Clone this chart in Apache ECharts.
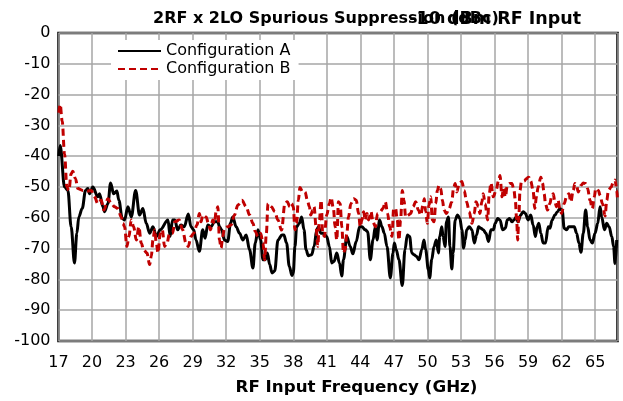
<!DOCTYPE html>
<html><head><meta charset="utf-8">
<script src="https://cdn.jsdelivr.net/npm/echarts@6/dist/echarts.min.js"></script>
<style>html,body{margin:0;padding:0;background:#fff}#c{width:623px;height:401px}</style>
</head><body><div id="c"></div>
<script>
const titleMain = '2RF x 2LO Spurious Suppression (dBc)';
const titleSub = '-10 dBm RF Input';
const xTitle = 'RF Input Frequency (GHz)';
const seriesNames = ['Configuration A', 'Configuration B'];
const xStart = 17, xEnd = 67, xStep = 3;
const yMin = -100, yMax = 0, yStep = 10;

const freqA = [17.02,17.15,17.54,17.84,18.13,18.43,18.64,18.82,19.12,19.42,19.63,19.78,20.07,20.52,20.67,20.97,21.12,21.42,21.66,21.93,22.22,22.40,22.70,22.91,23.21,23.51,23.90,24.25,24.55,24.85,25.15,25.45,25.75,26.10,26.79,26.99,27.20,27.41,27.65,27.95,28.25,28.61,28.85,29.09,29.30,29.60,29.90,30.11,30.35,30.65,30.95,31.25,31.40,31.60,31.84,32.14,32.38,32.59,32.89,33.19,33.49,33.79,34.09,34.39,34.60,34.84,35.08,35.29,35.50,35.68,35.89,36.10,36.34,36.63,36.99,37.16,37.40,37.64,37.88,38.00,38.15,38.30,38.54,38.75,38.96,39.14,39.35,39.65,39.86,40.10,40.25,40.46,40.69,40.99,41.23,41.44,41.65,41.89,42.13,42.34,42.49,42.79,43.09,43.33,43.63,43.93,44.14,44.44,44.65,44.89,45.13,45.34,45.49,45.72,45.93,46.14,46.38,46.68,46.92,47.04,47.21,47.45,47.75,47.99,48.20,48.41,48.59,48.80,49.01,49.25,49.49,49.69,49.84,50.08,50.20,50.38,50.59,50.80,50.98,51.10,51.28,51.40,51.58,51.70,51.88,52.01,52.18,52.30,52.48,52.69,52.90,53.08,53.23,53.38,53.51,53.74,53.98,54.19,54.40,54.57,54.78,54.99,55.23,55.47,55.68,55.89,56.07,56.28,56.49,56.73,56.97,57.14,57.35,57.56,57.74,57.95,58.10,58.34,58.55,58.76,59.00,59.24,59.45,59.66,59.81,59.96,60.14,60.35,60.56,60.80,60.95,61.16,61.40,61.63,61.84,62.05,62.23,62.44,62.65,62.89,63.13,63.34,63.55,63.73,63.94,64.15,64.33,64.54,64.75,64.99,65.23,65.44,65.59,65.83,66.04,66.25,66.49,66.65,66.78,66.93];
const suppA = [-40,-36.5,-50.0,-51.1,-62.9,-74.7,-65.0,-59.7,-57.0,-51.1,-50.5,-52.2,-50.0,-53.2,-52.2,-56.4,-58.0,-55.4,-48.7,-52.2,-51.3,-54.3,-60.2,-60.7,-56.4,-59.7,-51.1,-59.1,-57.0,-61.8,-65.0,-62.9,-66.1,-63.9,-60.7,-66.0,-60.7,-60.7,-63.9,-62.3,-62.9,-58.8,-62.9,-63.9,-67.2,-70.9,-63.9,-66.6,-62.3,-62.9,-61.3,-61.3,-62.9,-63.9,-67.2,-67.7,-61.8,-59.7,-62.9,-65.0,-67.2,-65.6,-70.4,-76.3,-68.2,-63.9,-67.2,-73.6,-73.6,-71.4,-75.2,-77.9,-77.3,-67.2,-65.6,-65.6,-68.2,-75.7,-78.7,-77.9,-69.3,-62.9,-61.8,-59.7,-63.9,-70.4,-72.3,-72.0,-69.3,-63.9,-62.9,-65.0,-65.0,-66.1,-69.3,-74.7,-74.1,-71.4,-74.7,-78.9,-73.6,-66.1,-69.3,-71.7,-67.7,-62.9,-62.9,-63.9,-64.5,-73.6,-67.2,-62.9,-67.2,-60.7,-62.9,-65.0,-69.3,-79.5,-71.4,-68.2,-70.4,-73.6,-82.0,-70.4,-65.6,-66.1,-71.4,-72.0,-72.5,-73.6,-70.4,-67.2,-70.4,-76.8,-79.5,-73.6,-69.3,-67.2,-71.4,-66.1,-62.9,-66.1,-69.3,-61.3,-59.7,-69.3,-76.6,-71.4,-60.7,-59.1,-60.2,-63.9,-69.8,-67.2,-63.9,-62.9,-63.9,-68.2,-65.6,-62.9,-63.4,-63.9,-65.0,-67.7,-63.9,-63.9,-61.8,-60.2,-60.7,-63.9,-63.4,-60.7,-60.2,-61.3,-60.7,-59.7,-61.3,-59.1,-58.0,-58.6,-60.7,-59.1,-62.3,-66.1,-62.9,-61.8,-65.0,-68.2,-68.2,-62.9,-63.4,-60.7,-59.1,-58.0,-57.0,-57.5,-63.4,-63.9,-62.9,-62.9,-62.9,-65.0,-68.2,-71.2,-65.0,-57.5,-62.9,-67.2,-68.2,-65.0,-61.8,-56.4,-59.7,-63.9,-61.8,-62.9,-66.1,-69.3,-74.9,-67.2];

const freqB = [17.03,17.15,17.33,17.54,17.75,17.93,18.13,18.28,18.52,18.73,19.18,19.63,19.93,20.22,20.52,20.82,21.06,21.42,21.72,22.01,22.31,22.61,22.76,22.91,23.12,23.30,23.51,23.72,23.96,24.19,24.40,24.61,24.91,25.15,25.30,25.45,25.60,25.75,25.90,26.10,26.28,26.49,26.70,26.94,27.20,27.41,27.80,28.10,28.40,28.61,28.85,29.09,29.39,29.60,29.75,29.90,30.20,30.41,30.59,30.80,30.95,31.10,31.25,31.40,31.54,31.69,31.84,32.14,32.44,32.74,33.04,33.40,33.79,34.09,34.39,34.60,34.84,35.08,35.29,35.44,35.59,35.74,36.04,36.34,36.63,36.95,37.25,37.46,37.70,37.85,38.00,38.15,38.30,38.45,38.60,38.84,39.05,39.26,39.44,39.56,39.74,39.86,40.04,40.19,40.34,40.49,40.63,40.78,40.99,41.23,41.38,41.59,41.74,41.89,42.04,42.19,42.34,42.49,42.64,42.79,42.94,43.15,43.39,43.63,43.84,43.99,44.14,44.29,44.44,44.59,44.74,44.95,45.13,45.34,45.54,45.78,46.02,46.23,46.44,46.62,46.83,46.98,47.15,47.30,47.45,47.60,47.75,47.90,48.05,48.29,48.50,48.71,48.95,49.19,49.40,49.60,49.72,49.84,49.99,50.14,50.29,50.44,50.59,50.74,50.89,51.04,51.19,51.34,51.49,51.70,51.94,52.18,52.33,52.48,52.63,52.84,53.08,53.29,53.50,53.74,53.98,54.19,54.34,54.57,54.69,54.87,54.99,55.16,55.38,55.53,55.68,55.89,56.13,56.37,56.49,56.67,56.79,56.97,57.14,57.35,57.56,57.74,57.86,57.98,58.07,58.16,58.28,58.40,58.64,58.85,59.06,59.24,59.45,59.60,59.75,59.90,60.14,60.29,60.44,60.56,60.74,60.95,61.10,61.25,61.40,61.54,61.69,61.84,61.99,62.23,62.44,62.65,62.83,63.04,63.19,63.34,63.49,63.73,63.94,64.15,64.33,64.54,64.75,64.93,65.05,65.29,65.44,65.65,65.89,66.04,66.19,66.43,66.63,66.78,66.93,67.00];
const suppB = [-25.9,-23.2,-28.6,-39.3,-50.0,-51.1,-45.7,-44.9,-47.3,-50.5,-51.1,-51.3,-51.1,-53.2,-55.4,-54.3,-57.5,-53.8,-55.4,-56.4,-57.0,-59.7,-61.8,-62.9,-69.3,-66.1,-60.7,-62.9,-67.2,-62.9,-68.2,-70.4,-71.4,-75.2,-72.5,-67.2,-63.9,-68.2,-71.4,-65.0,-63.9,-69.3,-68.2,-65.0,-65.0,-61.3,-60.7,-63.9,-68.2,-69.3,-66.1,-65.0,-62.3,-58.6,-61.3,-59.1,-59.7,-61.8,-63.9,-60.7,-61.8,-58.0,-56.4,-67.2,-69.8,-66.1,-63.4,-62.9,-62.3,-59.1,-55.9,-54.3,-56.4,-59.1,-61.8,-64.5,-66.1,-65.0,-68.2,-73.6,-65.0,-55.4,-56.4,-58.0,-60.7,-64.0,-55.4,-54.8,-56.4,-55.4,-56.4,-63.9,-61.8,-54.3,-50.2,-51.6,-51.6,-54.3,-56.4,-59.1,-57.5,-56.4,-62.9,-69.3,-60.7,-54.3,-65.0,-66.1,-59.1,-55.4,-53.4,-57.0,-62.9,-67.2,-54.8,-55.4,-62.9,-71.4,-70.4,-65.0,-59.7,-55.4,-53.8,-54.3,-58.6,-62.9,-60.7,-58.0,-60.7,-58.6,-60.7,-58.0,-61.3,-62.9,-58.6,-58.0,-57.0,-54.8,-58.6,-62.9,-66.1,-57.0,-57.0,-60.7,-67.2,-60.7,-51.1,-54.3,-59.7,-59.1,-58.6,-56.4,-54.8,-57.5,-59.1,-55.9,-53.8,-58.0,-61.8,-55.9,-53.2,-60.7,-61.3,-55.4,-51.1,-49.5,-50.5,-54.3,-57.5,-58.6,-57.0,-54.8,-50.5,-48.9,-51.6,-48.9,-48.2,-51.1,-54.8,-58.0,-61.8,-58.6,-54.8,-56.4,-58.6,-54.8,-52.2,-55.4,-60.7,-52.2,-48.7,-53.2,-51.1,-47.9,-46.3,-53.2,-50.5,-53.2,-49.5,-48.9,-48.9,-51.1,-54.3,-60.7,-67.2,-60.7,-51.1,-48.4,-48.1,-47.3,-46.8,-48.1,-51.1,-57.0,-53.2,-50.0,-46.8,-48.7,-52.2,-55.4,-57.5,-55.4,-53.2,-52.2,-54.8,-56.4,-54.3,-57.0,-58.6,-55.4,-53.2,-52.2,-54.8,-51.1,-48.9,-49.5,-51.6,-49.5,-48.7,-48.9,-50.5,-54.3,-57.0,-53.2,-50.5,-51.1,-52.7,-55.4,-59.4,-54.3,-51.1,-50.0,-48.4,-47.7,-51.1,-54.0];

const FONT = 'DejaVu Sans';
const toPts = (fx, fy) => fx.map((f, i) => [f - xStart, fy[i]]);

const chart = echarts.init(document.getElementById('c'), null, {renderer: 'canvas'});
chart.setOption({
  animation: false,
  backgroundColor: '#fff',
  textStyle: {fontFamily: FONT},
  title: [
    {text: titleMain, left: 148, top: 6, textStyle: {fontFamily: FONT, fontWeight: 'bold', fontSize: 16, color: '#000'}},
    {text: titleSub, right: 37, top: 5, textStyle: {fontFamily: FONT, fontWeight: 'bold', fontSize: 17.5, color: '#000'}}
  ],
  legend: {
    orient: 'vertical', left: 111, top: 40,
    backgroundColor: '#fff', padding: [3, 8, 3, 6],
    itemWidth: 43, itemHeight: 14, itemGap: 2,
    itemStyle: {opacity: 0},
    textStyle: {fontFamily: FONT, fontSize: 16, color: '#000'},
    data: seriesNames
  },
  grid: {left: 58.5, right: 5.5, top: 33, bottom: 59.5, show: true, borderColor: '#000', borderWidth: 2.5, backgroundColor: 'transparent'},
  xAxis: {
    type: 'value', min: 0, max: xEnd - xStart, interval: xStep,
    axisLine: {show: false}, axisTick: {show: false},
    splitLine: {show: true, lineStyle: {color: '#a6a6a6', width: 1.5}},
    axisLabel: {showMaxLabel: false, margin: 14, fontSize: 16, color: '#000', fontFamily: FONT, formatter: v => String(v + xStart)},
    name: xTitle, nameLocation: 'middle', nameGap: 38,
    nameTextStyle: {fontFamily: FONT, fontWeight: 'bold', fontSize: 16.7, color: '#000', padding: [0, 0, 0, 37]}
  },
  yAxis: {
    type: 'value', min: yMin, max: yMax, interval: yStep,
    axisLine: {show: false}, axisTick: {show: false},
    splitLine: {show: true, lineStyle: {color: '#a6a6a6', width: 1.5}},
    axisLabel: {margin: 8, fontSize: 16, color: '#000', fontFamily: FONT}
  },
  series: [
    {name: seriesNames[0], type: 'line', data: toPts(freqA, suppA), showSymbol: false, symbol: 'none', smooth: 0.35, smoothMonotone: 'x',
     lineStyle: {color: '#000', width: 3}, itemStyle: {color: '#000'}, z: 2},
    {name: seriesNames[1], type: 'line', data: toPts(freqB, suppB), showSymbol: false, symbol: 'none', smooth: 0.35, smoothMonotone: 'x',
     lineStyle: {color: '#c00000', width: 3, type: [7, 4]}, itemStyle: {color: '#c00000'}, z: 3}
  ]
});
</script>
</body></html>
